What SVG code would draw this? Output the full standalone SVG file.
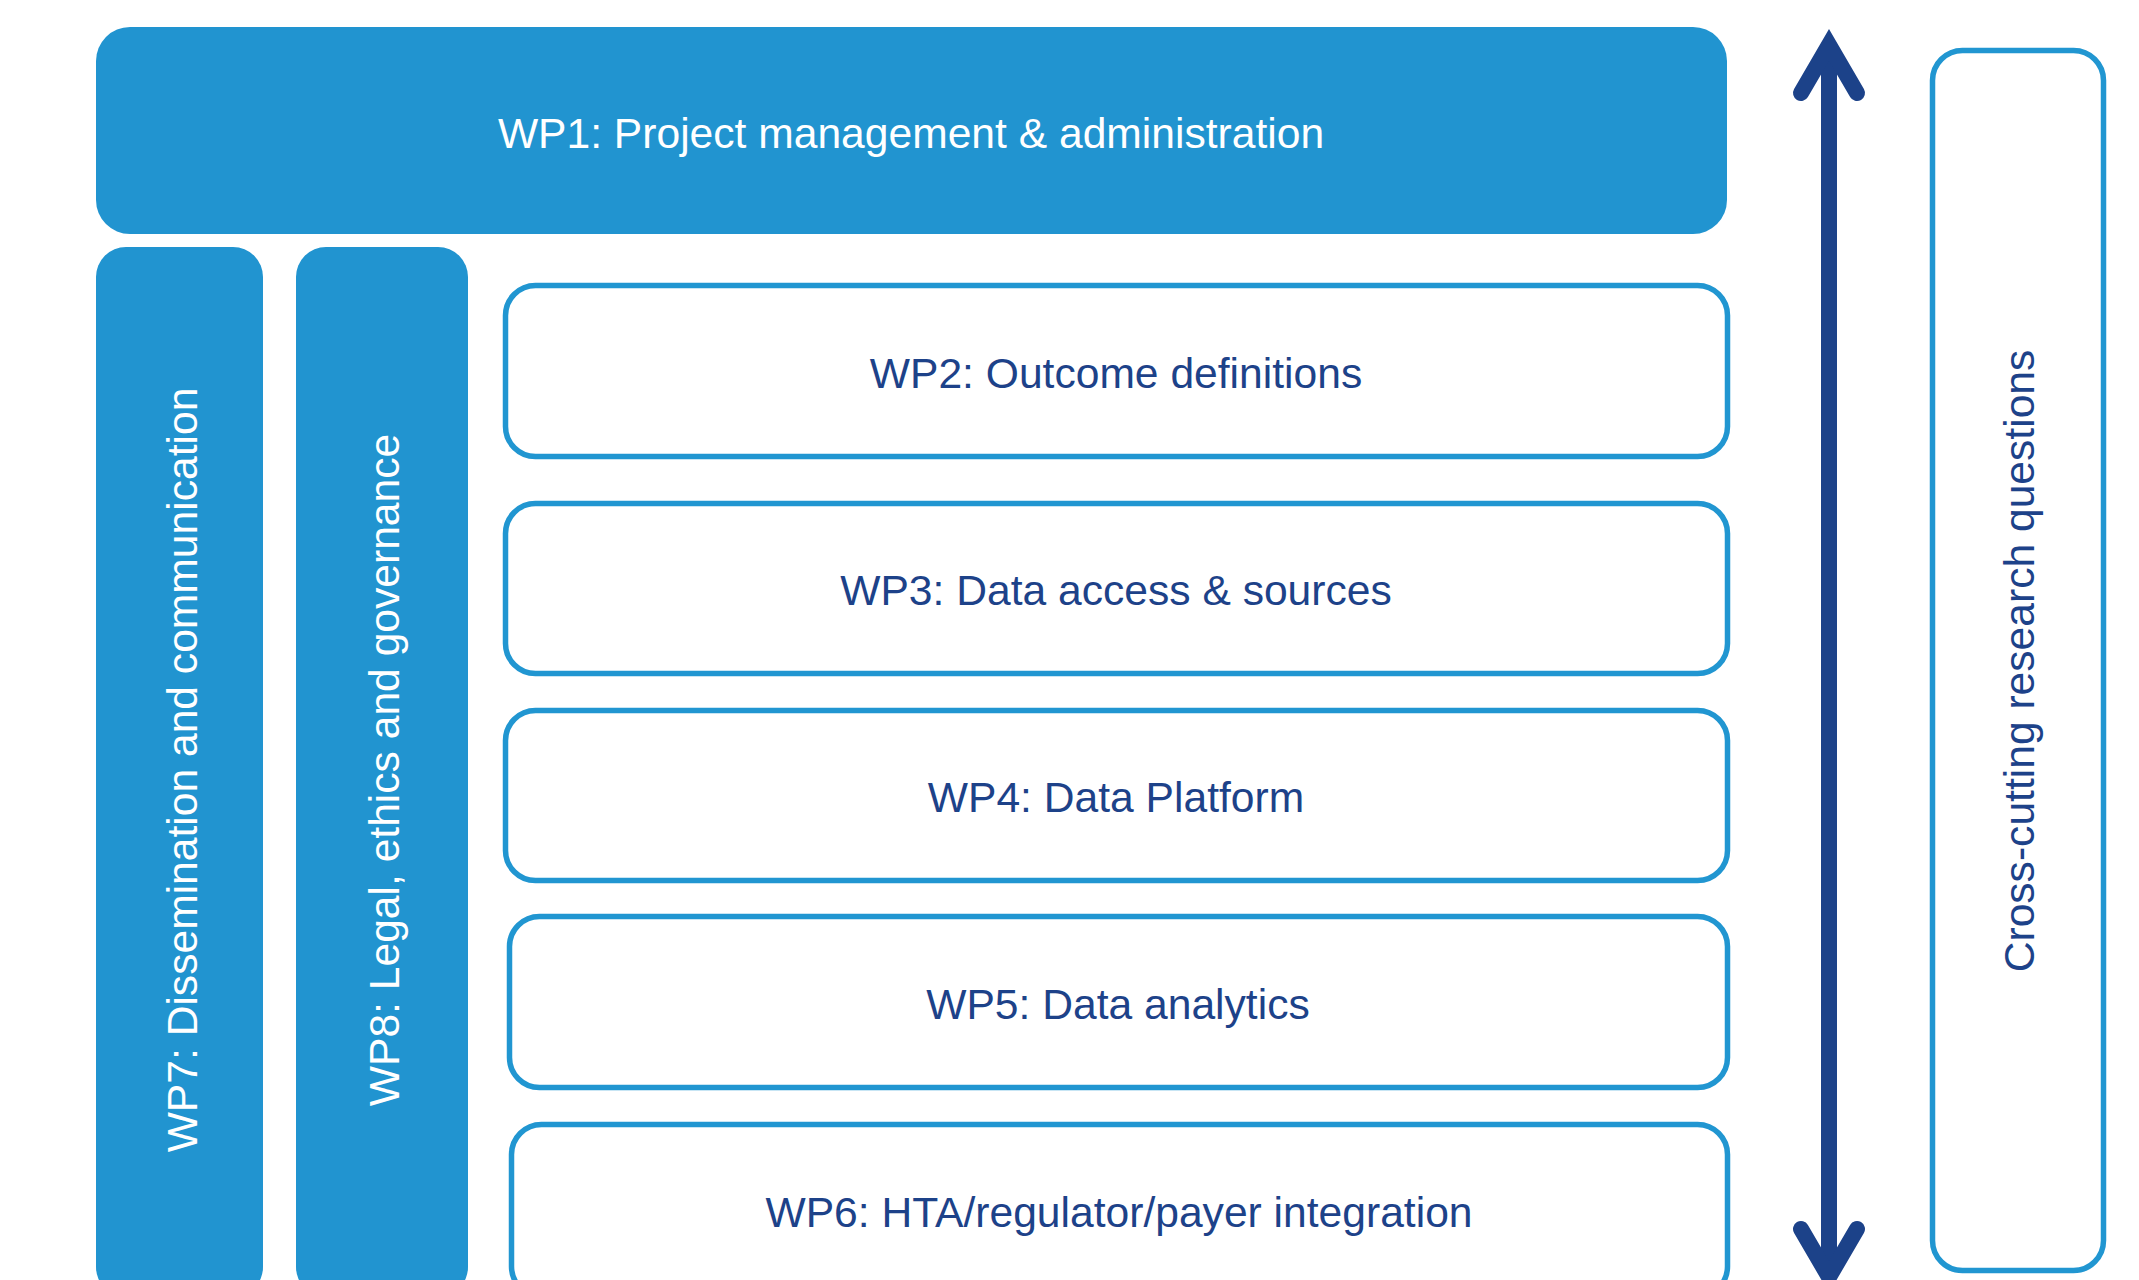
<svg xmlns="http://www.w3.org/2000/svg" width="2139" height="1280" viewBox="0 0 2139 1280">
<style>
.solid{fill:#2194D0;}
.outline{fill:#ffffff;stroke:#2196D1;stroke-width:5.5;}
.wt{font-family:"Liberation Sans",Arial,sans-serif;font-size:42.6px;fill:#ffffff;text-anchor:middle;}
.nt{font-family:"Liberation Sans",Arial,sans-serif;font-size:42.6px;fill:#1D4289;text-anchor:middle;}
.arr{fill:none;stroke:#1C4289;stroke-width:16;}
</style>
<rect width="2139" height="1280" fill="#ffffff"/>
<g id="wp1">
<rect class="solid" x="96" y="27" width="1631" height="207" rx="34" ry="34"/>
<text class="wt" x="911" y="148">WP1: Project management &amp; administration</text>
</g>
<g id="wp7">
<rect class="solid" x="96" y="247" width="167" height="1050" rx="30" ry="30"/>
<text class="wt" transform="translate(197,770) rotate(-90)">WP7: Dissemination and communication</text>
</g>
<g id="wp8">
<rect class="solid" x="296" y="247" width="172" height="1050" rx="30" ry="30"/>
<text class="wt" transform="translate(399,770) rotate(-90)">WP8: Legal, ethics and governance</text>
</g>
<g id="wp2">
<rect class="outline" x="505.5" y="285.5" width="1222" height="171" rx="30" ry="30"/>
<text class="nt" x="1116" y="388">WP2: Outcome definitions</text>
</g>
<g id="wp3">
<rect class="outline" x="505.5" y="503.5" width="1222" height="170" rx="30" ry="30"/>
<text class="nt" x="1116" y="605">WP3: Data access &amp; sources</text>
</g>
<g id="wp4">
<rect class="outline" x="505.5" y="710.5" width="1222" height="170" rx="30" ry="30"/>
<text class="nt" x="1116" y="812">WP4: Data Platform</text>
</g>
<g id="wp5">
<rect class="outline" x="509.5" y="916.5" width="1218" height="171" rx="30" ry="30"/>
<text class="nt" x="1118" y="1019">WP5: Data analytics</text>
</g>
<g id="wp6">
<rect class="outline" x="511.5" y="1124.5" width="1216" height="172" rx="30" ry="30"/>
<text class="nt" x="1119" y="1227">WP6: HTA/regulator/payer integration</text>
</g>
<g id="crosscutting">
<rect class="outline" x="1932.5" y="50.5" width="171" height="1220" rx="30" ry="30"/>
<text class="nt" transform="translate(2034,661) rotate(-90)">Cross-cutting research questions</text>
</g>
<g id="connectors">
<line class="arr" x1="1829" y1="45" x2="1829" y2="1277"/>
<polyline class="arr" points="1801,93 1829,45 1857,93" stroke-linecap="round" stroke-linejoin="miter"/>
<polyline class="arr" points="1801,1229 1829,1277 1857,1229" stroke-linecap="round" stroke-linejoin="miter"/>
</g>
</svg>
